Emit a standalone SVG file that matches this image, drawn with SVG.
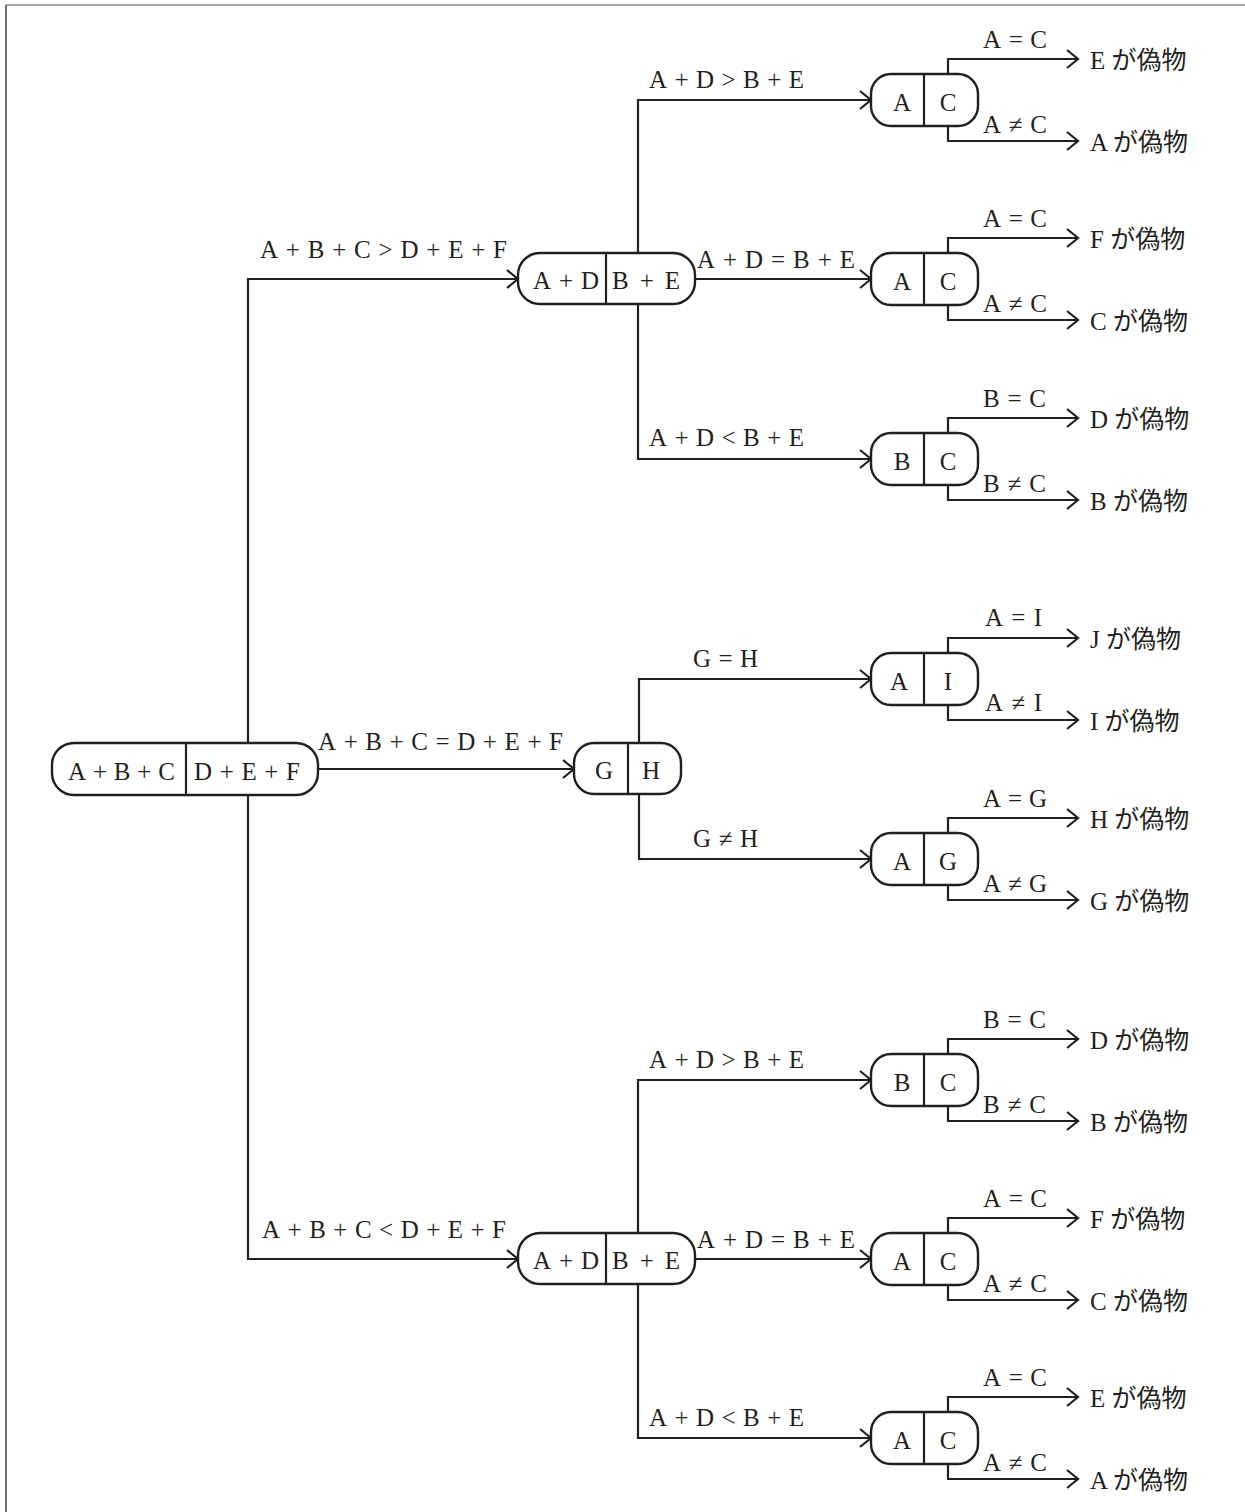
<svg xmlns="http://www.w3.org/2000/svg" width="1245" height="1512" viewBox="0 0 1245 1512">
<defs>
<style>
.frame-t{stroke:#8a8a8a;stroke-width:1.6;fill:none}
.frame-l{stroke:#4a4a4a;stroke-width:1.6;fill:none}
.node{fill:#fff;stroke:#231f20;stroke-width:2.4}
.div{stroke:#231f20;stroke-width:2.2}
.conn{fill:none;stroke:#231f20;stroke-width:2.2}
text{font-family:"Liberation Serif","Noto Sans CJK JP",serif;font-size:25px;fill:#231f20}
.jp{font-family:"Noto Sans CJK JP",sans-serif;font-size:25px}
.mid{text-anchor:middle}
</style>
<marker id="ah" markerUnits="userSpaceOnUse" markerWidth="16" markerHeight="22" viewBox="-14 -11 16 22" refX="0" refY="0" orient="auto">
<path d="M-11,-9 L0,0 L-11,9" fill="none" stroke="#231f20" stroke-width="2.2"/>
</marker>
</defs>
<rect width="1245" height="1512" fill="#fff"/>
<line class="frame-t" x1="6" y1="5" x2="1245" y2="5"/>
<line class="frame-l" x1="6" y1="5" x2="6" y2="1512"/>

<g id="connectors">
<path class="conn" d="M248,743 V279 H518" marker-end="url(#ah)"/>
<path class="conn" d="M248,795 V1259 H518" marker-end="url(#ah)"/>
<path class="conn" d="M318,769 H574" marker-end="url(#ah)"/>
<path class="conn" d="M638,253 V100 H871" marker-end="url(#ah)"/>
<path class="conn" d="M695,279 H871" marker-end="url(#ah)"/>
<path class="conn" d="M638,304 V459 H871" marker-end="url(#ah)"/>
<path class="conn" d="M639,743 V679 H871" marker-end="url(#ah)"/>
<path class="conn" d="M639,794 V859 H871" marker-end="url(#ah)"/>
<path class="conn" d="M638,1233 V1080 H871" marker-end="url(#ah)"/>
<path class="conn" d="M695,1259 H871" marker-end="url(#ah)"/>
<path class="conn" d="M638,1284 V1438 H871" marker-end="url(#ah)"/>
<path class="conn" d="M948,74 V59 H1078" marker-end="url(#ah)"/>
<path class="conn" d="M948,126 V141 H1078" marker-end="url(#ah)"/>
<path class="conn" d="M948,253 V238 H1078" marker-end="url(#ah)"/>
<path class="conn" d="M948,305 V320 H1078" marker-end="url(#ah)"/>
<path class="conn" d="M948,433 V418 H1078" marker-end="url(#ah)"/>
<path class="conn" d="M948,485 V500 H1078" marker-end="url(#ah)"/>
<path class="conn" d="M948,653 V638 H1078" marker-end="url(#ah)"/>
<path class="conn" d="M948,705 V720 H1078" marker-end="url(#ah)"/>
<path class="conn" d="M948,833 V818 H1078" marker-end="url(#ah)"/>
<path class="conn" d="M948,885 V900 H1078" marker-end="url(#ah)"/>
<path class="conn" d="M948,1054 V1039 H1078" marker-end="url(#ah)"/>
<path class="conn" d="M948,1106 V1121 H1078" marker-end="url(#ah)"/>
<path class="conn" d="M948,1233 V1218 H1078" marker-end="url(#ah)"/>
<path class="conn" d="M948,1285 V1300 H1078" marker-end="url(#ah)"/>
<path class="conn" d="M948,1412 V1397 H1078" marker-end="url(#ah)"/>
<path class="conn" d="M948,1464 V1479 H1078" marker-end="url(#ah)"/>
</g>

<g id="edge-labels">
<text x="260" y="258" textLength="247" lengthAdjust="spacing">A+B+C&gt;D+E+F</text>
<text x="318" y="750" textLength="245" lengthAdjust="spacing">A+B+C=D+E+F</text>
<text x="262" y="1238" textLength="244" lengthAdjust="spacing">A+B+C&lt;D+E+F</text>
<text x="649" y="88" textLength="155" lengthAdjust="spacing">A+D&gt;B+E</text>
<text x="697" y="268" textLength="158" lengthAdjust="spacing">A+D=B+E</text>
<text x="649" y="446" textLength="155" lengthAdjust="spacing">A+D&lt;B+E</text>
<text x="693" y="667" textLength="65" lengthAdjust="spacing">G=H</text>
<text x="693" y="847" textLength="65" lengthAdjust="spacing">G≠H</text>
<text x="649" y="1068" textLength="155" lengthAdjust="spacing">A+D&gt;B+E</text>
<text x="697" y="1248" textLength="158" lengthAdjust="spacing">A+D=B+E</text>
<text x="649" y="1426" textLength="155" lengthAdjust="spacing">A+D&lt;B+E</text>
<text x="983" y="48" textLength="64" lengthAdjust="spacing">A=C</text>
<text x="983" y="133" textLength="64" lengthAdjust="spacing">A≠C</text>
<text x="983" y="227" textLength="64" lengthAdjust="spacing">A=C</text>
<text x="983" y="312" textLength="64" lengthAdjust="spacing">A≠C</text>
<text x="983" y="407" textLength="63" lengthAdjust="spacing">B=C</text>
<text x="983" y="492" textLength="63" lengthAdjust="spacing">B≠C</text>
<text x="985" y="626" textLength="57" lengthAdjust="spacing">A=I</text>
<text x="985" y="711" textLength="57" lengthAdjust="spacing">A≠I</text>
<text x="983" y="807" textLength="64" lengthAdjust="spacing">A=G</text>
<text x="983" y="892" textLength="64" lengthAdjust="spacing">A≠G</text>
<text x="983" y="1028" textLength="63" lengthAdjust="spacing">B=C</text>
<text x="983" y="1113" textLength="63" lengthAdjust="spacing">B≠C</text>
<text x="983" y="1207" textLength="64" lengthAdjust="spacing">A=C</text>
<text x="983" y="1292" textLength="64" lengthAdjust="spacing">A≠C</text>
<text x="983" y="1386" textLength="64" lengthAdjust="spacing">A=C</text>
<text x="983" y="1471" textLength="64" lengthAdjust="spacing">A≠C</text>
</g>

<g id="root">
<rect class="node" x="52" y="743" width="266" height="52" rx="22"/>
<line class="div" x1="186" y1="743" x2="186" y2="795"/>
<text x="68" y="780" textLength="107" lengthAdjust="spacing">A+B+C</text>
<text x="194" y="780" textLength="106" lengthAdjust="spacing">D+E+F</text>
</g>

<g id="n-top">
<rect class="node" x="518" y="253" width="177" height="51" rx="22"/>
<line class="div" x1="606" y1="253" x2="606" y2="304"/>
<text x="533" y="289" textLength="66" lengthAdjust="spacing">A+D</text>
<text x="612" y="289" textLength="68" lengthAdjust="spacing">B+E</text>
</g>

<g id="n-mid">
<rect class="node" x="574" y="743" width="107" height="51" rx="20"/>
<line class="div" x1="628" y1="743" x2="628" y2="794"/>
<text class="mid" x="604" y="779">G</text>
<text class="mid" x="651" y="779">H</text>
</g>

<g id="n-bot">
<rect class="node" x="518" y="1233" width="177" height="51" rx="22"/>
<line class="div" x1="606" y1="1233" x2="606" y2="1284"/>
<text x="533" y="1269" textLength="66" lengthAdjust="spacing">A+D</text>
<text x="612" y="1269" textLength="68" lengthAdjust="spacing">B+E</text>
</g>

<g id="leaf-t1">
<rect class="node" x="871" y="74" width="107" height="52" rx="20"/>
<line class="div" x1="924" y1="74" x2="924" y2="126"/>
<text class="mid" x="902" y="111">A</text><text class="mid" x="948" y="111">C</text>
</g>
<g id="leaf-t2">
<rect class="node" x="871" y="253" width="107" height="52" rx="20"/>
<line class="div" x1="924" y1="253" x2="924" y2="305"/>
<text class="mid" x="902" y="290">A</text><text class="mid" x="948" y="290">C</text>
</g>
<g id="leaf-t3">
<rect class="node" x="871" y="433" width="107" height="52" rx="20"/>
<line class="div" x1="924" y1="433" x2="924" y2="485"/>
<text class="mid" x="902" y="470">B</text><text class="mid" x="948" y="470">C</text>
</g>
<g id="leaf-m1">
<rect class="node" x="871" y="653" width="107" height="52" rx="20"/>
<line class="div" x1="924" y1="653" x2="924" y2="705"/>
<text class="mid" x="899" y="690">A</text><text class="mid" x="948" y="690">I</text>
</g>
<g id="leaf-m2">
<rect class="node" x="871" y="833" width="107" height="52" rx="20"/>
<line class="div" x1="924" y1="833" x2="924" y2="885"/>
<text class="mid" x="902" y="870">A</text><text class="mid" x="948" y="870">G</text>
</g>
<g id="leaf-b1">
<rect class="node" x="871" y="1054" width="107" height="52" rx="20"/>
<line class="div" x1="924" y1="1054" x2="924" y2="1106"/>
<text class="mid" x="902" y="1091">B</text><text class="mid" x="948" y="1091">C</text>
</g>
<g id="leaf-b2">
<rect class="node" x="871" y="1233" width="107" height="52" rx="20"/>
<line class="div" x1="924" y1="1233" x2="924" y2="1285"/>
<text class="mid" x="902" y="1270">A</text><text class="mid" x="948" y="1270">C</text>
</g>
<g id="leaf-b3">
<rect class="node" x="871" y="1412" width="107" height="52" rx="20"/>
<line class="div" x1="924" y1="1412" x2="924" y2="1464"/>
<text class="mid" x="902" y="1449">A</text><text class="mid" x="948" y="1449">C</text>
</g>

<g id="results">
<text x="1090" y="69">E <tspan class="jp">が偽物</tspan></text>
<text x="1090" y="151">A <tspan class="jp">が偽物</tspan></text>
<text x="1090" y="248">F <tspan class="jp">が偽物</tspan></text>
<text x="1090" y="330">C <tspan class="jp">が偽物</tspan></text>
<text x="1090" y="428">D <tspan class="jp">が偽物</tspan></text>
<text x="1090" y="510">B <tspan class="jp">が偽物</tspan></text>
<text x="1090" y="648">J <tspan class="jp">が偽物</tspan></text>
<text x="1090" y="730">I <tspan class="jp">が偽物</tspan></text>
<text x="1090" y="828">H <tspan class="jp">が偽物</tspan></text>
<text x="1090" y="910">G <tspan class="jp">が偽物</tspan></text>
<text x="1090" y="1049">D <tspan class="jp">が偽物</tspan></text>
<text x="1090" y="1131">B <tspan class="jp">が偽物</tspan></text>
<text x="1090" y="1228">F <tspan class="jp">が偽物</tspan></text>
<text x="1090" y="1310">C <tspan class="jp">が偽物</tspan></text>
<text x="1090" y="1407">E <tspan class="jp">が偽物</tspan></text>
<text x="1090" y="1489">A <tspan class="jp">が偽物</tspan></text>
</g>
</svg>
